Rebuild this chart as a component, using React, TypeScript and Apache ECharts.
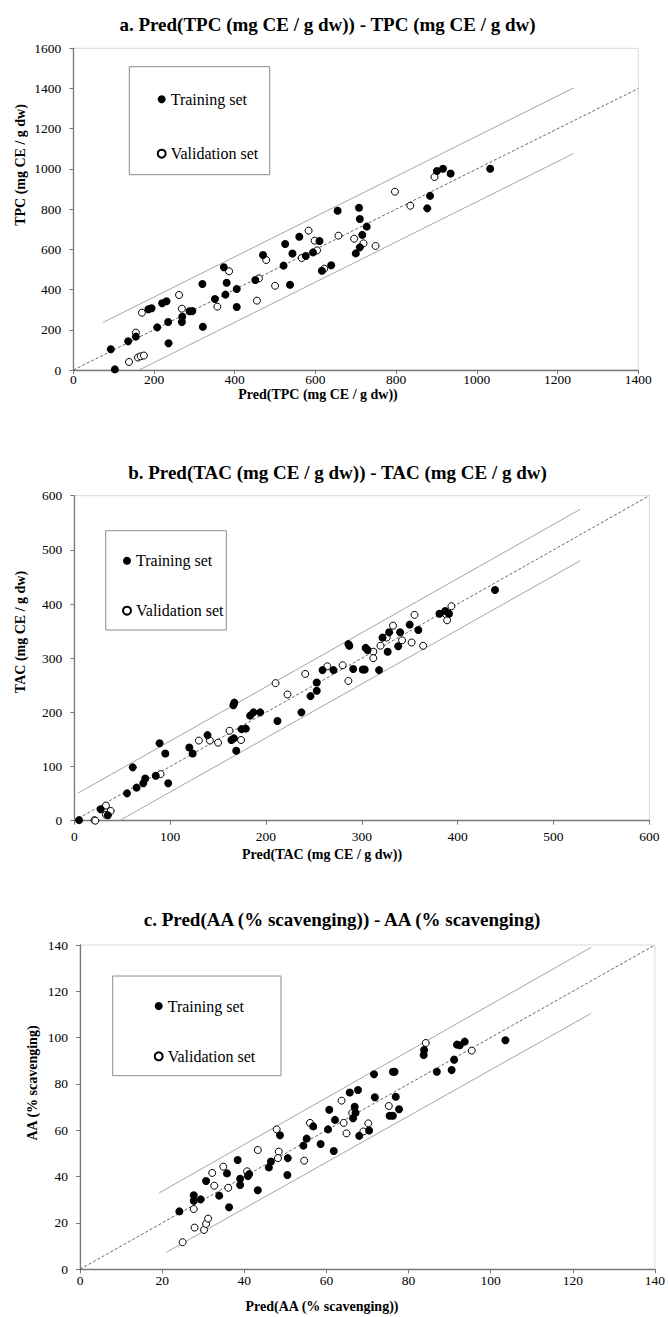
import React, { useEffect, useRef } from "react";
import * as echarts from "echarts";

const FONT = "Liberation Serif, Times New Roman, serif";

// ---------- a. TPC ----------
const trainA: number[][] = [
  [93, 103], [103, 3], [136, 143], [155, 166], [186, 302], [194, 307], [208, 212], [220, 332],
  [231, 342], [235, 239], [236, 133], [269, 239], [270, 265], [288, 292], [295, 293], [320, 428],
  [321, 215], [351, 353], [373, 511], [377, 375], [380, 434], [405, 403], [405, 313], [451, 448],
  [470, 572], [521, 519], [525, 627], [537, 424], [543, 579], [560, 663], [576, 567], [594, 585],
  [610, 642], [616, 494], [639, 521], [655, 792], [700, 580], [708, 807], [710, 751], [727, 713],
  [716, 672], [710, 610], [877, 804], [884, 866], [901, 990], [916, 1001], [935, 977], [1033, 1001],
];
const validA: number[][] = [
  [138, 40], [155, 186], [160, 62], [167, 68], [175, 72], [170, 285], [262, 373], [269, 305],
  [357, 315], [386, 491], [455, 345], [460, 456], [478, 547], [500, 419], [566, 557], [583, 693],
  [598, 643], [604, 595], [622, 504], [657, 668], [696, 653], [719, 630], [749, 617], [797, 887],
  [835, 817], [895, 960],
];
const diagA = [[0, 0], [1400, 1400]];
const upperA = [[74, 237], [1240, 1403]];
const lowerA = [[163, 0], [1240, 1077]];

// ---------- b. TAC ----------
const trainB: number[][] = [
  [5, 1], [27.5, 21], [35, 10], [55, 50.5], [61, 98.5], [65, 61], [72, 69], [74, 78], [85, 83],
  [89, 143], [95, 124], [98, 69], [120, 135], [123.5, 124], [139, 158], [164, 149], [166, 213],
  [167, 218], [166.5, 152], [169, 129], [174.5, 169], [179, 170], [183.5, 194], [187, 200],
  [194, 200], [212, 184], [237, 200], [246.5, 230], [253, 240], [253, 255], [259, 278],
  [270.5, 278], [286, 326], [287, 323], [291, 280], [301, 279], [303, 279], [318, 278], [304, 319],
  [306, 315], [321.6, 338], [327, 312], [328.5, 348], [338, 322], [340, 348], [350, 362],
  [359, 352], [381, 382], [387, 387], [391, 382], [439, 426],
];
const validB: number[][] = [
  [21, 1], [22, 0], [33, 28], [33, 11], [38, 18], [90, 86], [130, 148], [141.5, 148], [150, 144],
  [162, 166], [174, 149], [210, 254], [222.5, 233], [241, 271], [264, 285], [280, 287], [286, 258],
  [312, 312], [312, 300], [319.5, 323], [326, 338], [332.6, 360], [342, 333], [352, 329],
  [355, 380], [364, 323], [388, 381], [389, 370], [393.5, 396],
];
const diagB = [[0, 0], [600, 600]];
const upperB = [[4, 51], [528, 575]];
const lowerB = [[47, 0], [528, 480]];

// ---------- c. AA ----------
const trainC: number[][] = [
  [24.2, 25], [27.7, 32], [27.7, 29.6], [29.4, 30.2], [30.7, 38.1], [33.9, 31.8], [35.8, 41.4],
  [36.3, 26.8], [38.4, 47.2], [39, 36.4], [39, 39.1], [40.9, 40.3], [41.2, 41.1], [43.3, 34.1],
  [46, 44], [46.5, 46.5], [48.7, 57.9], [50.6, 48], [50.5, 40.7], [54.4, 53.4], [55.2, 56.4],
  [56.8, 61.7], [58.6, 54.1], [60.4, 60.4], [60.7, 68.9], [61.8, 51.1], [62.1, 64.5], [65.7, 76.3],
  [66.9, 70.2], [67.1, 67.6], [66.5, 65.2], [67.7, 77.4], [68, 57.6], [70.4, 59.9], [71.6, 84.2],
  [71.8, 74.3], [76.2, 85.3], [76.6, 85.3], [76.9, 74.5], [75.4, 66.3], [76.2, 66.3], [77.7, 69.1],
  [83.7, 92.5], [83.8, 94.7], [86.9, 85.3], [90.5, 86], [91.1, 90.5], [91.8, 97], [92.5, 96.7],
  [93.7, 98.3], [103.6, 98.9],
];
const validC: number[][] = [
  [25, 11.7], [27.7, 26], [27.9, 18], [30.2, 17], [30.7, 19.6], [31.2, 21.9], [32.2, 41.6],
  [32.7, 36.1], [34.9, 44.3], [36.1, 35.2], [40.7, 42.3], [43.3, 51.5], [47.9, 60.4], [48.4, 50.8],
  [48.2, 48], [54.6, 46.9], [56, 63.2], [63.7, 72.8], [64.2, 63.2], [64.9, 58.7], [66.3, 67.5],
  [69, 59.5], [70.2, 63], [75.2, 70.5], [84.2, 97.7], [95.4, 94.4],
];
const diagC = [[0, 0], [140, 140]];
const upperC = [[19.3, 33], [124.5, 139]];
const lowerC = [[21, 7.3], [124.5, 110.5]];

const titles = [
  "a. Pred(TPC (mg CE / g dw)) - TPC (mg CE / g dw)",
  "b. Pred(TAC (mg CE / g dw)) - TAC (mg CE / g dw)",
  "c. Pred(AA (% scavenging)) - AA (% scavenging)",
];
const xNames = ["Pred(TPC (mg CE / g dw))", "Pred(TAC (mg CE / g dw))", "Pred(AA (% scavenging))"];
const yNames = ["TPC (mg CE / g dw)", "TAC (mg CE / g dw)", "AA (% scavenging)"];
const axisMax = [[1400, 1600], [600, 600], [140, 140]];
const axisStep = [[200, 200], [100, 100], [20, 20]];

export default function App() {
  const ref = useRef<HTMLDivElement>(null);
  useEffect(() => {
    document.body.style.margin = "0";
    if (!ref.current) return;
    const chart = echarts.init(ref.current, undefined, { renderer: "svg" });

    const grids = [
      { left: 73.3, top: 48.3, width: 565, height: 321.7 },
      { left: 74.3, top: 495.7, width: 575, height: 325 },
      { left: 80, top: 945, width: 575.4, height: 324.3 },
    ];
    const titlePos = [[327.5, 24], [337.5, 472], [342, 919]];
    const xNamePos = [[318, 394], [322, 854], [322, 1306]];
    const yNamePos = [[20, 165], [20, 632], [32, 1083]];
    const xLabelMargin = [2, 9, 4];
    const legendBox = [
      [129.3, 66.7, 140.4, 108],
      [105.7, 530.7, 120.6, 99.3],
      [112.7, 976, 168.3, 99.7],
    ];
    const legendItem = [[155.7, 94.3, 54.4], [121, 555.7, 50], [152.7, 1001, 50.3]];

    const sets = [
      { train: trainA, valid: validA, diag: diagA, up: upperA, lo: lowerA },
      { train: trainB, valid: validB, diag: diagB, up: upperB, lo: lowerB },
      { train: trainC, valid: validC, diag: diagC, up: upperC, lo: lowerC },
    ];

    const axisLine = { show: true, lineStyle: { color: "#7a7a7a", width: 1.3 } };
    const axisTick = { show: true, inside: false, length: 4, lineStyle: { color: "#7a7a7a", width: 1 } };
    const labelStyle = { fontFamily: FONT, fontSize: 13.5, color: "#000", formatter: (v: number) => String(v) };

    const xAxis = grids.map((_, i) => ({
      type: "value",
      gridIndex: i,
      min: 0,
      max: axisMax[i][0],
      interval: axisStep[i][0],
      axisLine,
      axisTick,
      splitLine: { show: false },
      axisLabel: { ...labelStyle, margin: xLabelMargin[i] },
    }));
    const yAxis = grids.map((_, i) => ({
      type: "value",
      gridIndex: i,
      min: 0,
      max: axisMax[i][1],
      interval: axisStep[i][1],
      axisLine,
      axisTick,
      splitLine: { show: false },
      axisLabel: { ...labelStyle, margin: 12 },
    }));

    const series: any[] = [];
    sets.forEach((s, i) => {
      const common = { xAxisIndex: i, yAxisIndex: i, silent: true };
      series.push({
        ...common, type: "line", name: "diag" + i, data: s.diag, symbol: "none",
        lineStyle: { color: "#404040", width: 0.8, type: [3, 2] }, z: 1,
      });
      series.push({
        ...common, type: "line", name: "upper" + i, data: s.up, symbol: "none",
        lineStyle: { color: "#a6a6a6", width: 1 }, z: 1,
      });
      series.push({
        ...common, type: "line", name: "lower" + i, data: s.lo, symbol: "none",
        lineStyle: { color: "#a6a6a6", width: 1 }, z: 1,
      });
      series.push({
        ...common, type: "scatter", name: "Validation set", data: s.valid, symbol: "circle",
        symbolSize: 7, itemStyle: { color: "#fff", borderColor: "#000", borderWidth: 1, opacity: 1 }, z: 3,
      });
      series.push({
        ...common, type: "scatter", name: "Training set", data: s.train, symbol: "circle",
        symbolSize: 8, itemStyle: { color: "#000", opacity: 1 }, z: 4,
      });
    });

    const legend = legendItem.map(([cx, cy, gap]) => ({
      orient: "vertical",
      left: cx - 4,
      top: cy - 8,
      itemWidth: 8,
      itemHeight: 8,
      itemGap: gap - 16,
      selectedMode: false,
      icon: "circle",
      textStyle: { fontFamily: FONT, fontSize: 16, color: "#000", lineHeight: 16 },
      data: ["Training set", "Validation set"],
    }));

    const graphic: any[] = [];
    titles.forEach((t, i) => {
      graphic.push({
        type: "text", x: titlePos[i][0], y: titlePos[i][1],
        style: { text: t, fontFamily: FONT, fontSize: 19, fontWeight: "bold", fill: "#000", align: "center", verticalAlign: "middle" },
      });
      graphic.push({
        type: "text", x: xNamePos[i][0], y: xNamePos[i][1],
        style: { text: xNames[i], fontFamily: FONT, fontSize: 14, fontWeight: "bold", fill: "#000", align: "center", verticalAlign: "middle" },
      });
      graphic.push({
        type: "text", x: yNamePos[i][0], y: yNamePos[i][1], rotation: Math.PI / 2,
        style: { text: yNames[i], fontFamily: FONT, fontSize: 14, fontWeight: "bold", fill: "#000", align: "center", verticalAlign: "middle" },
      });
      const b = legendBox[i];
      graphic.push({
        type: "rect", shape: { x: b[0], y: b[1], width: b[2], height: b[3] },
        style: { fill: "none", stroke: "#8c8c8c", lineWidth: 1 }, z: 5,
      });
    });

    chart.setOption({
      animation: false,
      backgroundColor: "#fff",
      grid: grids.map((g) => ({ ...g, show: true, borderColor: "#d9d9d9", borderWidth: 1, backgroundColor: "transparent" })),
      xAxis,
      yAxis,
      legend,
      series,
      graphic,
    });
    return () => chart.dispose();
  }, []);
  return <div ref={ref} style={{ width: 668, height: 1317 }} />;
}
